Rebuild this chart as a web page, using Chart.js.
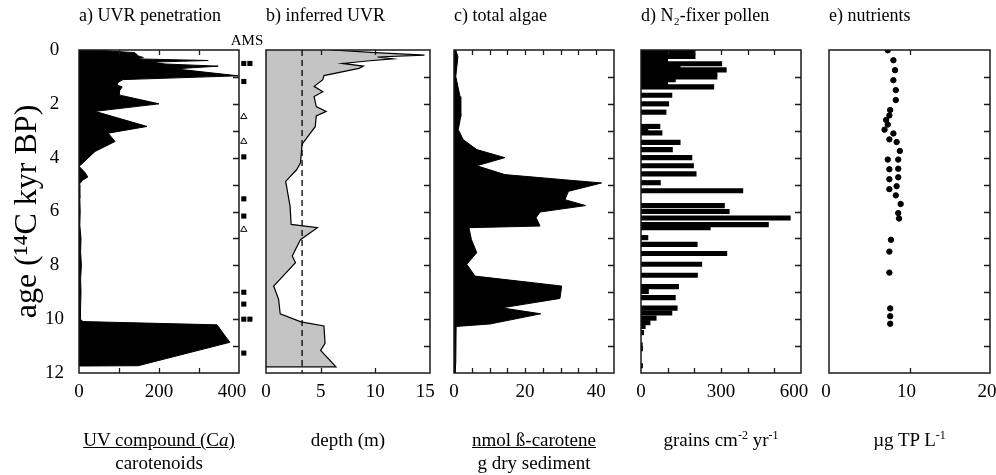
<!DOCTYPE html>
<html>
<head>
<meta charset="utf-8">
<script src="https://cdn.jsdelivr.net/npm/chart.js"></script>
<style>
html, body { margin: 0; padding: 0; background: #fff; overflow: hidden; }
#wrap { position: relative; width: 996px; height: 475px; overflow: hidden; }
#wrap canvas { position: absolute; top: 0; }
.cap { position: absolute; top: 428px; font: 19px 'Liberation Serif', serif; line-height: 23px; text-align: center; color: #000; }
.cap sup { font-size: 12px; line-height: 0; vertical-align: 7px; }
</style>
</head>
<body>
<div id="wrap">
  <canvas id="pa" width="269" height="475" style="left:0px"></canvas>
  <canvas id="pb" width="214" height="475" style="left:246px"></canvas>
  <canvas id="pams" width="42" height="475" style="left:226px"></canvas>
  <canvas id="pc" width="210" height="475" style="left:434px"></canvas>
  <canvas id="pd" width="210" height="475" style="left:621px"></canvas>
  <canvas id="pe" width="211" height="475" style="left:809px"></canvas>
  <div class="cap" style="left:79px;width:160px"><u>UV compound (C<i>a</i>)</u><br>carotenoids</div>
  <div class="cap" style="left:266px;width:164px">depth (m)</div>
  <div class="cap" style="left:454px;width:160px"><u>nmol ß-carotene</u><br>g dry sediment</div>
  <div class="cap" style="left:641px;width:160px">grains cm<sup>-2</sup> yr<sup>-1</sup></div>
  <div class="cap" style="left:829px;width:161px">µg TP L<sup>-1</sup></div>
</div>
<script>
// a) UVR penetration: UV compound / carotenoids against age
const ageA = [0, 0.1, 0.22, 0.28, 0.33, 0.39, 0.45, 0.52, 0.6, 0.7, 0.96, 1.1, 1.2, 1.3, 1.37, 1.5, 1.67, 2.0, 2.28, 2.84,
  3.09, 3.4, 3.77, 4.26, 4.32, 4.55, 4.72, 4.85, 5.0, 5.5, 6.0, 6.5, 7.0, 7.5, 8.0, 8.5, 9.0, 9.5, 10.0, 10.09,
  10.21, 10.86, 11.73, 11.74];
const uvA = [40, 140, 148, 161, 144, 323, 182, 215, 348, 240, 398, 110, 98, 95, 108, 102, 100, 200, 40, 170,
  73, 90, 40, 5, 0, 15, 22, 8, 0, 2, 3, 2, 5, 4, 6, 4, 5, 4, 3, 10,
  345, 377, 148, 0];

// AMS dates (squares in column 0/1, open triangles)
const amsSquareAge = [0.5, 0.5, 1.17, 3.97, 5.53, 6.17, 9.0, 9.44, 10.0, 10.0, 11.26];
const amsSquareCol = [0, 1, 0, 0, 0, 0, 0, 0, 0, 1, 0];
const amsTriangleAge = [2.48, 3.4, 6.67];
const amsTriangleCol = [0, 0, 0];

// b) inferred UVR depth (m)
const ageB = [0, 0.1, 0.19, 0.26, 0.33, 0.4, 0.5, 0.6, 0.68, 0.95, 1.1, 1.35, 1.55, 1.73, 2.1, 2.28, 2.45, 2.85, 3.5, 4.2,
  4.45, 4.88, 5.8, 6.48, 6.6, 7.05, 7.65, 7.9, 8.77, 9.26, 9.8, 10.1, 10.25, 10.9, 11.16, 11.77, 11.77];
const depthB = [6, 10, 14.5, 10.2, 11.6, 9.5, 7.0, 8.9, 8.5, 5.3, 5.2, 4.4, 5.2, 4.4, 4.6, 5.5, 4.6, 4.5, 3.3, 3.15,
  2.8, 1.8, 2.2, 2.3, 4.7, 3.15, 2.4, 2.7, 0.7, 1.15, 1.3, 3.2, 5.3, 5.4, 5.0, 6.4, 0];
const depthLine = 3.3;

// c) total algae, nmol beta-carotene / g dry sediment
const ageC = [0, 0.25, 0.98, 1.73, 2.47, 2.96, 3.33, 3.7, 4.0, 4.3, 4.63, 4.94, 5.25, 5.56, 5.78, 6.02, 6.23, 6.54, 6.6, 7.04,
  7.53, 7.96, 8.4, 8.77, 9.23, 9.58, 9.8, 10.18, 10.27, 11.6, 12];
const caroteneC = [0.5, 1.1, 0.5, 1.7, 1.9, 1.2, 2.6, 6.4, 14.3, 6.4, 14.3, 41.5, 32.2, 31.2, 37, 24.2, 23.1, 24.2, 4.2, 4.9,
  6.4, 3.6, 5.9, 30.3, 29.8, 13.4, 24.4, 10.1, 0.6, 0.5, 0.3];

// d) N2-fixer pollen, grains cm-2 yr-1
const ageD = [0.08, 0.24, 0.38, 0.51, 0.62, 0.74, 0.88, 1.0, 1.1, 1.22, 1.37, 1.68, 2.0, 2.31, 2.84, 2.95, 3.08, 3.43, 3.7, 4.0,
  4.3, 4.6, 4.93, 5.23, 5.78, 6.0, 6.24, 6.49, 6.6, 6.97, 7.22, 7.56, 7.96, 8.37, 8.79, 8.97, 9.2, 9.59, 9.77, 9.96,
  10.13, 10.27, 10.5, 10.95, 11.1, 11.73];
const pollenD = [203, 203, 100, 303, 147, 320, 285, 285, 129, 100, 273, 116, 104, 94, 71, 26, 79, 147, 118, 191,
  197, 207, 73, 382, 313, 331, 560, 478, 260, 26, 211, 322, 228, 212, 141, 28, 129, 136, 116, 57,
  34, 16, 10, 5, 6, 6];

// e) nutrients, ug TP L-1
const ageE = [0.01, 0.38, 0.75, 1.12, 1.49, 1.86, 2.23, 2.43, 2.6, 2.77, 2.96, 3.1, 3.32, 3.42, 3.75, 4.07, 4.07, 4.43, 4.41, 4.8,
  4.73, 5.17, 5.06, 5.4, 5.72, 6.06, 6.26, 7.05, 7.49, 8.27, 9.6, 9.89, 10.17];
const tpE = [7.3, 8.0, 8.2, 8.0, 8.3, 8.3, 7.6, 7.5, 7.1, 7.3, 6.9, 8.0, 7.5, 8.4, 8.8, 7.3, 8.6, 7.5, 8.6, 7.5,
  8.6, 7.5, 8.4, 8.3, 8.9, 8.6, 8.7, 7.7, 7.5, 7.5, 7.6, 7.6, 7.6];

Chart.defaults.font.family = "'Liberation Serif', 'Times New Roman', serif";
Chart.defaults.color = '#000';
Chart.defaults.animation = false;

const pts = (vals, ages) => vals.map((v, i) => ({x: v, y: ages[i]}));

// frame + inward tick marks (top/bottom for values, right side for age)
const frameTicks = {
  id: 'frameTicks',
  afterDatasetsDraw(chart) {
    const {ctx, chartArea: a, scales: {x, y}} = chart;
    ctx.save();
    ctx.strokeStyle = '#1a1a1a';
    ctx.lineWidth = 1.3;
    ctx.beginPath();
    x.ticks.forEach(t => {
      if (t.value <= x.min || t.value >= x.max) return;
      const px = Math.round(x.getPixelForValue(t.value)) + 0.5;
      ctx.moveTo(px, a.top); ctx.lineTo(px, a.top + 5);
      ctx.moveTo(px, a.bottom); ctx.lineTo(px, a.bottom - 5);
    });
    y.ticks.forEach(t => {
      if (t.value <= y.min || t.value >= y.max) return;
      const py = Math.round(y.getPixelForValue(t.value)) + 0.5;
      ctx.moveTo(a.right, py); ctx.lineTo(a.right - 6, py);
    });
    ctx.stroke();
    ctx.lineWidth = 1.5;
    ctx.strokeRect(a.left, a.top, a.right - a.left, a.bottom - a.top);
    ctx.restore();
  }
};

function ageAxis(show) {
  return {
    type: 'linear', reverse: true, min: 0, max: 12, offset: false, display: show,
    grid: {display: false, drawTicks: false}, border: {display: false},
    ticks: {stepSize: 1, autoSkip: false, padding: 15, crossAlign: 'center', font: {size: 19},
      callback: v => v % 2 === 0 ? v : ''},
    title: {display: show, text: 'age (¹⁴C kyr BP)', font: {size: 32}, padding: {top: 2, bottom: 0}},
    afterFit: s => { if (show) s.width = 73; }
  };
}

// endPad nudges the last label left, as in the original figure
function valueAxis(max, step, every, endPad, shift) {
  return {
    type: 'linear', min: 0, max: max, offset: false,
    grid: {display: false, drawTicks: false}, border: {display: false},
    ticks: {stepSize: step, autoSkip: false, maxRotation: 0, padding: 8, font: {size: 19},
      labelOffset: shift || 0,
      callback: v => v % every !== 0 ? '' : (v === max ? v + (endPad || '') : '' + v)},
    afterFit: s => { s.height = 40; }
  };
}

function panelOptions(title, xScale, showAge, padLeft) {
  return {
    responsive: false,
    indexAxis: 'y',
    events: [],
    layout: {padding: {left: padLeft, right: 30, top: 0, bottom: 62}},
    scales: {x: xScale, y: ageAxis(showAge)},
    plugins: {
      legend: {display: false},
      tooltip: {enabled: false},
      title: {display: true, text: title, align: 'start', fullSize: false,
        font: {size: 18, weight: 'normal'}, padding: {top: 5, bottom: 23.4}}
    }
  };
}

new Chart(document.getElementById('pa'), {
  type: 'line',
  data: {datasets: [{data: pts(uvA, ageA), borderColor: '#000', backgroundColor: '#000',
    borderWidth: 1, pointRadius: 0, tension: 0, fill: 'origin'}]},
  options: panelOptions('a) UVR penetration', valueAxis(400, 100, 200, '\u2002 '), true, 6),
  plugins: [frameTicks]
});

new Chart(document.getElementById('pams'), {
  type: 'scatter',
  data: {datasets: [
    {data: pts(amsSquareCol, amsSquareAge), pointStyle: 'rect', pointRadius: 3.6,
      backgroundColor: '#000', borderColor: '#000', borderWidth: 0},
    {data: pts(amsTriangleCol, amsTriangleAge), pointStyle: 'triangle', pointRadius: 3.6,
      backgroundColor: '#fff', borderColor: '#000', borderWidth: 1}
  ]},
  options: {
    responsive: false, events: [],
    layout: {padding: {left: 0, right: 0, top: 0, bottom: 102}},
    scales: {
      x: {type: 'linear', min: -2.1, max: 3.15, display: false},
      y: {type: 'linear', reverse: true, min: 0, max: 12, display: false}
    },
    plugins: {
      legend: {display: false}, tooltip: {enabled: false},
      title: {display: true, text: 'AMS', align: 'center', font: {size: 15, weight: 'normal'},
        padding: {top: 32, bottom: 0}}
    }
  }
});

new Chart(document.getElementById('pb'), {
  type: 'line',
  data: {datasets: [
    {data: [{x: depthLine, y: 0}, {x: depthLine, y: 12}], borderColor: '#000', borderWidth: 1.3,
      borderDash: [6, 4], pointRadius: 0, fill: false},
    {data: pts(depthB, ageB), borderColor: '#000', backgroundColor: '#c4c4c4',
      borderWidth: 1.2, pointRadius: 0, tension: 0, fill: 'origin'}
  ]},
  options: panelOptions('b) inferred UVR', valueAxis(15, 5, 5, '\u2002'), false, 20),
  plugins: [frameTicks]
});

new Chart(document.getElementById('pc'), {
  type: 'line',
  data: {datasets: [{data: pts(caroteneC, ageC), borderColor: '#000', backgroundColor: '#000',
    borderWidth: 1, pointRadius: 0, tension: 0, fill: 'origin'}]},
  options: panelOptions('c) total algae', valueAxis(45, 5, 20), false, 20),
  plugins: [frameTicks]
});

new Chart(document.getElementById('pd'), {
  type: 'bar',
  data: {datasets: [{data: pts(pollenD, ageD), backgroundColor: '#000', borderWidth: 0, barThickness: 4.5}]},
  options: panelOptions('d) N₂-fixer pollen', valueAxis(600, 100, 300, '\u2002 '), false, 20),
  plugins: [frameTicks]
});

new Chart(document.getElementById('pe'), {
  type: 'scatter',
  data: {datasets: [{data: pts(tpE, ageE), backgroundColor: '#000', borderColor: '#000', pointRadius: 2.7}]},
  options: Object.assign(panelOptions('e) nutrients', valueAxis(20, 10, 10, '', -3), false, 20), {indexAxis: 'x'}),
  plugins: [frameTicks]
});
</script>
</body>
</html>
